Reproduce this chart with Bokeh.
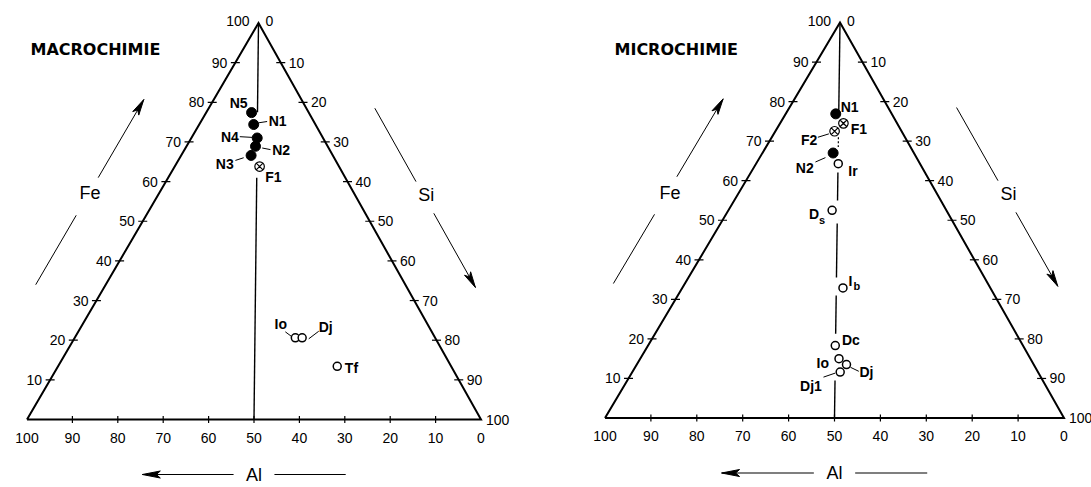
import math
from bokeh.plotting import figure
from bokeh.layouts import row
from bokeh.models import Range1d
from bokeh.core.properties import value
from bokeh.embed import file_html
from bokeh.resources import INLINE

# ---------------- data ----------------
TICK_VALUES = [0, 10, 20, 30, 40, 50, 60, 70, 80, 90, 100]
AXIS_NAMES = ["Fe", "Si", "Al"]

MACRO_TITLE = "MACROCHIMIE"
macro_labels = ["N5", "N1", "N4", "N2", "N3", "F1", "Io", "Dj", "Tf"]
macro_fe = [77.4, 74.4, 71.0, 68.9, 66.6, 63.8, 20.6, 20.6, 13.4]
macro_si = [10.0, 12.0, 14.5, 15.2, 15.4, 18.7, 48.6, 50.1, 61.5]
macro_kind = ["filled", "filled", "filled", "filled", "filled", "crossed", "open", "open", "open"]
macro_median_solid = [(100.0, 77.5), (61.0, 0.0)]   # Fe ranges of the Al = Si line
macro_median_dotted = []

MICRO_TITLE = "MICROCHIMIE"
micro_labels = ["N1", "F1", "F2", "N2", "Ir", "Ds", "Ib", "Dc", "Io", "Dj", "Dj1"]
micro_fe = [76.9, 74.5, 72.5, 67.0, 64.3, 52.5, 32.9, 18.3, 15.0, 13.5, 11.6]
micro_si = [10.9, 13.8, 12.9, 15.4, 17.9, 22.6, 35.0, 40.8, 43.3, 45.7, 45.3]
micro_kind = ["filled", "crossed", "crossed", "filled", "open", "open", "open", "open", "open", "open", "open"]
micro_median_solid = [(100.0, 77.3), (62.1, 55.0), (49.2, 35.5), (31.0, 21.3), (9.5, 0.0)]
micro_median_dotted = [(71.0, 68.5)]

# ---------------- styles (pixel offsets) ----------------
H = 487
LEFT_GEOM = dict(page_x=0, width=545, bl=(26.5, 419.0), br=(480.5, 419.0), apex=(258.0, 22.5),
                 title_px=(30, 49), fe_off=-70, si_off=68.5)
RIGHT_GEOM = dict(page_x=545, width=546, bl=(604.5, 417.5), br=(1063.5, 417.5), apex=(839.5, 22.0),
                  title_px=(614, 49), fe_off=-71.5, si_off=68.4)
AL_ROW_OFFSET = 55

# label: (dx, dy, align, leader(x0,y0,x1,y1) or None, subscript offset or None)
MACRO_STYLE = {
    "N5": (-4, -9.5, "right", None, None),
    "N1": (15, -4, "left", (5, -1.7, 13.4, -3), None),
    "N4": (-18.4, -1.3, "right", (-17.4, -1.3, -5, -0.6), None),
    "N2": (16.7, 3.3, "left", (6.7, 1.7, 15, 3.3), None),
    "N3": (-17.4, 8.3, "right", (-15.7, 5, -7.4, 2.3), None),
    "F1": (5.7, 10, "left", None, None),
    "Io": (-8.3, -14, "right", (-10, -6, -4, -1.5), None),
    "Dj": (16.6, -11.3, "left", (6.6, 1, 16.6, -6.6), None),
    "Tf": (7.6, 1.3, "left", None, None),
}
MICRO_STYLE = {
    "N1": (5, -6.6, "left", None, None),
    "F1": (7.3, 5.6, "left", None, None),
    "F2": (-17.3, 8.6, "right", (-16.7, 6, -5.7, 2.6), None),
    "N2": (-19.4, 14.6, "right", (-17.7, 9, -7.7, 4.6), None),
    "Ir": (10, 7.4, "left", None, None),
    "Ds": (-13, 4, "right", None, (-13, 9.5)),
    "Ib": (5.6, -6.6, "left", None, (10.5, -2)),
    "Dc": (6.7, -5.7, "left", None, None),
    "Io": (-10, 4.4, "right", None, None),
    "Dj": (13, 7.7, "left", (4, 2.7, 12.3, 6.7), None),
    "Dj1": (-18.3, 14.3, "right", (-16.7, 5, -5, 1), None),
}

FONT = value("Liberation Sans")


def build(geom, title, labels, fe, si, kind, solid, dotted, style):
    blx, bly = geom["bl"]
    brx, bry = geom["br"]
    apx, apy = geom["apex"]
    sx = (brx - blx) / 100.0
    sy = (bly - apy) / 100.0
    skew = (apx - (blx + brx) / 2.0) / sx
    x0 = -(blx - geom["page_x"]) / sx
    x1 = x0 + geom["width"] / sx
    y1 = 100 + apy / sy
    y0 = y1 - H / sy

    p = figure(width=geom["width"], height=H, x_range=Range1d(x0, x1), y_range=Range1d(y0, y1),
               output_backend="svg", toolbar_location=None, min_border=0,
               x_axis_location=None, y_axis_location=None,
               background_fill_color="white", border_fill_color="white")
    p.grid.visible = False
    p.outline_line_color = None

    def T(f, s):
        return s + f / 2.0 + skew * f / 100.0, f

    def off(pt, dx, dy):
        return pt[0] + dx / sx, pt[1] - dy / sy

    def pd(px, py):
        return (px - geom["page_x"]) / sx + x0, y1 - py / sy

    def txt(pts, texts, align, size="14px", bold=False, font=FONT, baseline="middle"):
        p.text(x=[q[0] for q in pts], y=[q[1] for q in pts], text=texts,
               text_align=align, text_baseline=baseline, text_font=font,
               text_font_size=size, text_font_style="bold" if bold else "normal",
               text_color="black")

    def head(tip, d, L=16, hw=3.5, notch=4):
        nx, ny = -d[1], d[0]
        pts = [(0, 0), (-L * d[0] + hw * nx, -L * d[1] + hw * ny),
               (-(L - notch) * d[0], -(L - notch) * d[1]),
               (-L * d[0] - hw * nx, -L * d[1] - hw * ny)]
        p.patch([tip[0] + a / sx for a, b in pts], [tip[1] - b / sy for a, b in pts],
                fill_color="black", line_color="black", line_width=1)

    # triangle
    corners = [T(0, 0), T(0, 100), T(100, 0), T(0, 0)]
    p.line([c[0] for c in corners], [c[1] for c in corners], line_color="black",
           line_width=2, line_join="miter")

    inner = [t for t in TICK_VALUES if 0 < t < 100]
    # ticks
    lt = [T(t, 0) for t in inner]
    rt = [T(100 - t, t) for t in inner]
    bt = [T(0, 100 - t) for t in inner]
    p.scatter([q[0] for q in lt + rt], [q[1] for q in lt + rt], marker="dash", size=9,
              line_color="black", line_width=1.2)
    p.scatter([q[0] for q in bt], [q[1] for q in bt], marker="dash", size=7, angle=math.pi / 2,
              line_color="black", line_width=1.2)

    # tick labels
    txt([off(T(t, 0), -8, 0) for t in inner], [str(t) for t in inner], "right")
    txt([off(T(100, 0), -9, -2)], [str(TICK_VALUES[-1])], "right")
    txt([off(T(100 - t, t), 8, 0) for t in inner], [str(t) for t in inner], "left")
    txt([off(T(100, 0), 7, -2)], [str(TICK_VALUES[0])], "left")
    txt([off(T(0, 100), 5, 0)], [str(TICK_VALUES[-1])], "left")
    txt([off(T(0, 100 - t), 0, 18) for t in TICK_VALUES], [str(t) for t in TICK_VALUES], "center")

    # axis arrows and names
    le = (apx - blx, apy - bly)
    ln = math.hypot(*le)
    d_up = (le[0] / ln, le[1] / ln)
    re_ = (brx - apx, bry - apy)
    rn = math.hypot(*re_)
    d_dn = (re_[0] / rn, re_[1] / rn)
    fo, so = geom["fe_off"], geom["si_off"]
    for a, b in [(34, 51.5), (61, 80.7)]:
        pa, pb = off(T(a, 0), fo, 0), off(T(b, 0), fo, 0)
        p.line([pa[0], pb[0]], [pa[1], pb[1]], line_color="black", line_width=1)
    head(off(T(80.7, 0), fo, 0), d_up)
    for a, b in [(78.5, 60), (52, 33.3)]:
        pa, pb = off(T(a, 100 - a), so, 0), off(T(b, 100 - b), so, 0)
        p.line([pa[0], pb[0]], [pa[1], pb[1]], line_color="black", line_width=1)
    head(off(T(33.3, 100 - 33.3), so, 0), d_dn)
    txt([off(T(57, 0), -69, 0)], [AXIS_NAMES[0]], "center", size="18px")
    txt([off(T(56.7, 43.3), 71.5, 0)], [AXIS_NAMES[1]], "center", size="18px")
    # Al arrow along base
    ao = AL_ROW_OFFSET
    a1, a2 = off(T(0, 100 - 54.5), 0, ao), off(T(0, 100 - 74.6), 0, ao)
    p.line([a1[0], a2[0]], [a1[1], a2[1]], line_color="black", line_width=1.2)
    head(a2, (-1.0, 0.0), L=18, hw=3.5, notch=4)
    b1, b2 = off(T(0, 100 - 45.5), 0, ao), off(T(0, 100 - 29.8), 0, ao)
    p.line([b1[0], b2[0]], [b1[1], b2[1]], line_color="black", line_width=1.2)
    txt([off(T(0, 50), 0, ao)], [AXIS_NAMES[2]], "center", size="18px")

    # Al = Si line
    for a, b in solid:
        pa, pb = T(a, (100 - a) / 2.0), T(b, (100 - b) / 2.0)
        p.line([pa[0], pb[0]], [pa[1], pb[1]], line_color="black", line_width=1.4)
    for a, b in dotted:
        pa, pb = T(a, (100 - a) / 2.0), T(b, (100 - b) / 2.0)
        p.line([pa[0], pb[0]], [pa[1], pb[1]], line_color="black", line_width=1.2, line_dash="2 2")

    # title
    txt([pd(*geom["title_px"])], [title], "left", size="16px", bold=True, font=value("DejaVu Sans"))

    # points
    pts = [T(f, s) for f, s in zip(fe, si)]
    for k, (mk, sz, fc, lw) in {"filled": ("circle", 10, "black", 1),
                                "crossed": ("circle_x", 9.5, "white", 1.2),
                                "open": ("circle", 8, "white", 1.5)}.items():
        sel = [q for q, kk in zip(pts, kind) if kk == k]
        if sel:
            p.scatter([q[0] for q in sel], [q[1] for q in sel], marker=mk, size=sz,
                      fill_color=fc, line_color="black", line_width=lw)

    # point labels
    for lab, q in zip(labels, pts):
        dx, dy, al, lead, sub = style[lab]
        if lead is not None:
            u, v = off(q, lead[0], lead[1]), off(q, lead[2], lead[3])
            p.segment(x0=[u[0]], y0=[u[1]], x1=[v[0]], y1=[v[1]], line_color="black", line_width=1)
        if sub is None:
            txt([off(q, dx, dy)], [lab], al, bold=True)
        else:
            txt([off(q, dx, dy)], [lab[:-1]], al, bold=True)
            txt([off(q, sub[0], sub[1])], [lab[-1]], "left", size="11px", bold=True)
    return p


p1 = build(LEFT_GEOM, MACRO_TITLE, macro_labels, macro_fe, macro_si, macro_kind,
           macro_median_solid, macro_median_dotted, MACRO_STYLE)
p2 = build(RIGHT_GEOM, MICRO_TITLE, micro_labels, micro_fe, micro_si, micro_kind,
           micro_median_solid, micro_median_dotted, MICRO_STYLE)

layout = row(p1, p2)
open("out.html", "w").write(file_html(layout, INLINE))
